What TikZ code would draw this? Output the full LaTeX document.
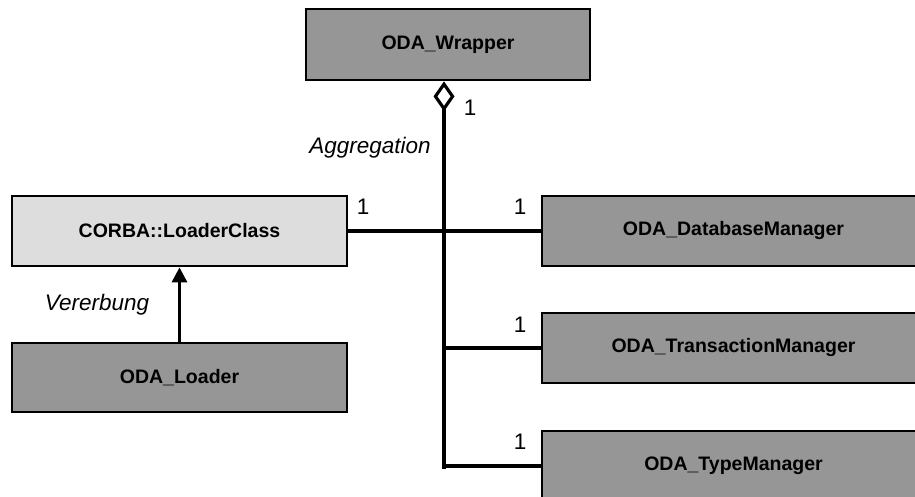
\documentclass[tikz,border=0pt]{standalone}
\usepackage{fontspec}
\setmainfont{Liberation Sans}
\usetikzlibrary{arrows.meta}
\usetikzlibrary{positioning}
\definecolor{klasse}{RGB}{150,150,150}
\definecolor{basis}{RGB}{221,221,221}

\begin{document}
\begin{tikzpicture}
	[
	font = \fontsize{12.8}{15}\selectfont,
	box/.style = {draw, line width=1.6pt, fill=klasse, minimum height=1.4cm, font=\fontsize{11.1}{13}\selectfont\bfseries, inner sep=0pt},
	con/.style = {line width=1.8pt},
	lbl/.style = {inner sep=1pt}
	]

	\path[use as bounding box, clip] (0,0) rectangle (18.3,9.94);

	\node[box, minimum width=5.68cm, minimum height=1.42cm] (wrapper) at (8.96,9.05) {ODA\_Wrapper};
	\node[box, fill=basis, minimum width=6.7cm] (corba) at (3.59,5.32) {CORBA::LoaderClass};
	\node[box, minimum width=6.7cm, minimum height=1.38cm] (loader) at (3.59,2.39) {ODA\_Loader};
	\node[box, minimum width=7.66cm] (dbm) at (14.67,5.32) {ODA\_DatabaseManager};
	\node[box, minimum width=7.66cm] (tam) at (14.67,2.98) {ODA\_TransactionManager};
	\node[box, minimum width=7.66cm] (tym) at (14.67,0.62) {ODA\_TypeManager};

	\coordinate (@end) at (8.88,0.56);

	% Aggregation
	\draw[con, {Diamond[open, length=0.6cm, width=0.42cm]}-] (wrapper.south -| @end) -- (@end);
	\draw[con] (corba.east) -- (dbm.west);
	\draw[con] (tam.west -| @end) -- (tam.west);
	\draw[con] (tym.west -| @end) -- (tym.west);

	% Vererbung
	\draw[con, -{Triangle[length=0.3cm, width=0.3cm]}] (loader.north) -- (corba.south);

	\node[lbl] (m0) at (9.4,7.78) {1};
	\node[lbl] (m1) at (7.26,5.8) {1};
	\node[lbl] (m2) at (10.4,5.8) {1};
	\node[lbl] (m3) at (10.4,3.44) {1};
	\node[lbl] (m4) at (10.4,1.1) {1};
	\node[lbl, font=\fontsize{12.8}{15}\selectfont\itshape] (agg) at (7.4,6.98) {Aggregation};
	\node[lbl, font=\fontsize{12.8}{15}\selectfont\itshape] (inh) at (1.94,3.84) {Vererbung};

\end{tikzpicture}
\end{document}
